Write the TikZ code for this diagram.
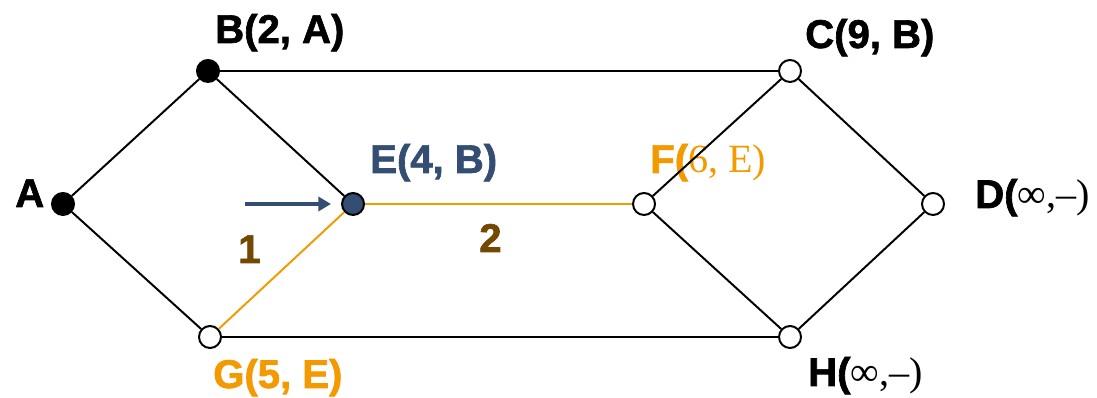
\documentclass[tikz,border=0pt]{standalone}
\usepackage{fontspec}
\setmainfont{Liberation Serif}
\setsansfont{Liberation Sans}[BoldFeatures={FakeBold=1.6}]
\usepackage{tikz}
\usetikzlibrary{arrows.meta}
\definecolor{slateblue}{RGB}{52,78,115}
\definecolor{pathorange}{RGB}{243,154,0}
\definecolor{darkbrown}{RGB}{115,72,0}

\begin{document}
\begin{tikzpicture}[x=0.025cm, y=-0.025cm,
    % Node styles
    vertex/.style={circle, draw=black, fill=white, line width=1.4pt, minimum size=0.55cm, inner sep=0pt},
    done/.style={vertex, fill=black},
    current/.style={vertex, fill=slateblue},
    tag/.style={anchor=base west, inner sep=0pt, font=\sffamily\bfseries\fontsize{28.5}{30}\selectfont},
    weight/.style={tag, text=darkbrown},
    % Edge styles
    edge/.style={draw=black, line width=1.4pt},
    tree/.style={draw=pathorange, line width=1.4pt},
    pointer/.style={draw=slateblue, line width=2.8pt, -{Triangle[length=9pt, width=10pt]}}
]
\useasboundingbox (0,0) rectangle (1097,398);

% Vertices
\node[done] (A) at (63,204) {};
\node[done] (B) at (208,71) {};
\node[vertex] (C) at (790,71) {};
\node[vertex] (D) at (933,204) {};
\node[current] (E) at (353,204) {};
\node[vertex] (F) at (644,204) {};
\node[vertex] (G) at (210,337) {};
\node[vertex] (H) at (790,337) {};

% Labels
\node[tag] (labA) at (15,207) {A};
\node[tag] (labB) at (215,43) {B(2, A)};
\node[tag] (labC) at (805,48) {C(9, B)};
\node[tag, text=slateblue] (labE) at (370,173) {E(4, B)};
\node[tag, text=pathorange] (labF) at (650,173) {F({\rmfamily\mdseries 6, E)}};
\node[tag] (labD) at (975,208) {D({\rmfamily\mdseries ∞,–)}};
\node[tag, text=pathorange] (labG) at (213,388) {G(5, E)};
\node[tag] (labH) at (808,386) {H({\rmfamily\mdseries ∞,–)}};

% Weights
\node[weight] (w1) at (238,263) {1};
\node[weight] (w2) at (479,252) {2};

% Pointer
\coordinate (ptrS) at (245,204);
\coordinate (ptrE) at (331,204);
\draw[pointer] (ptrS) -- (ptrE);

% Draw all edges
\draw[edge] (A) -- (B);
\draw[edge] (A) -- (G);
\draw[edge] (B) -- (C);
\draw[edge] (B) -- (E);
\draw[edge] (C) -- (F);
\draw[edge] (C) -- (D);
\draw[edge] (D) -- (H);
\draw[edge] (F) -- (H);
\draw[edge] (G) -- (H);

\draw[tree] (G) -- (E);
\draw[tree] (E) -- (F);

\end{tikzpicture}
\end{document}
